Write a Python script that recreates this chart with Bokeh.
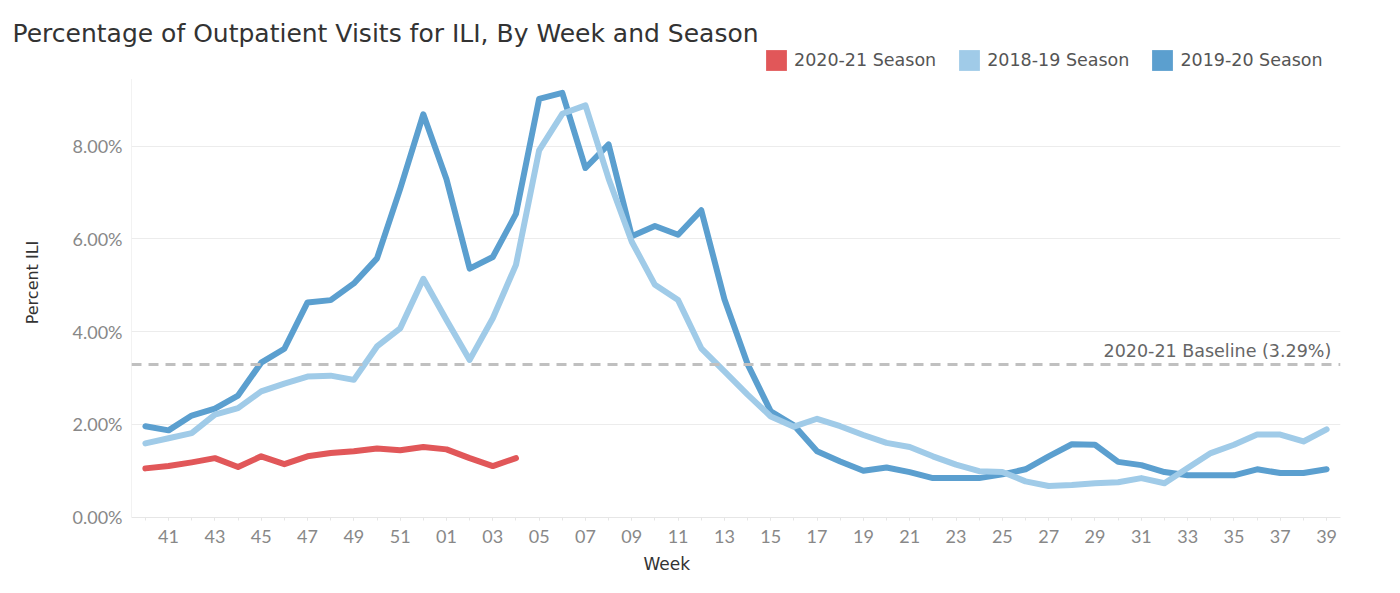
from bokeh.plotting import figure
from bokeh.models import (Range1d, FixedTicker, Legend, LegendItem, Label, Span,
                          ColumnDataSource, Title)
from bokeh.embed import file_html
from bokeh.resources import INLINE

# ---- data ----
weeks = [str(w).zfill(2) for w in list(range(40, 53)) + list(range(1, 40))]

season_2019_20 = [1.96, 1.87, 2.19, 2.34, 2.62, 3.33, 3.63, 4.63, 4.68, 5.04,
                  5.58, 7.08, 8.69, 7.29, 5.36, 5.61, 6.54, 9.02, 9.15, 7.53,
                  8.04, 6.06, 6.28, 6.09, 6.62, 4.70, 3.30, 2.28, 1.98, 1.42,
                  1.20, 1.00, 1.07, 0.97, 0.84, 0.84, 0.84, 0.92, 1.03, 1.31,
                  1.57, 1.56, 1.19, 1.12, 0.97, 0.90, 0.90, 0.90, 1.03, 0.95,
                  0.95, 1.03]
season_2018_19 = [1.59, 1.70, 1.81, 2.21, 2.35, 2.71, 2.88, 3.03, 3.05, 2.96,
                  3.68, 4.07, 5.14, 4.25, 3.39, 4.29, 5.44, 7.91, 8.70, 8.88,
                  7.30, 5.94, 5.01, 4.68, 3.64, 3.14, 2.64, 2.17, 1.95, 2.12,
                  1.96, 1.77, 1.60, 1.51, 1.31, 1.13, 0.99, 0.97, 0.77, 0.67,
                  0.69, 0.73, 0.75, 0.84, 0.73, 1.06, 1.38, 1.56, 1.78, 1.78,
                  1.63, 1.89]
season_2020_21 = [1.05, 1.10, 1.18, 1.27, 1.08, 1.31, 1.14, 1.31, 1.38, 1.42,
                  1.48, 1.44, 1.51, 1.46, 1.27, 1.10, 1.27]
baseline = 3.29
y_ticks = [0, 2, 4, 6, 8]
y_tick_labels = ["0.00%", "2.00%", "4.00%", "6.00%", "8.00%"]
series_names = ["2020-21 Season", "2018-19 Season", "2019-20 Season"]

x = list(range(len(weeks)))

C_RED = "#e15759"
C_LIGHT = "#a0cbe8"
C_DARK = "#5b9fcf"
FONT = "DejaVu Sans"
TICK_FONT = "Lato"

Y_TOP = 10.13      # view top (room for legend)
AXIS_TOP = 9.45    # where the left axis rule ends

p = figure(width=1400, height=593, output_backend="svg", toolbar_location=None,
           x_range=Range1d(-0.6, 51.6), y_range=Range1d(-0.01, Y_TOP),
           min_border_left=131, min_border_right=60, min_border_top=47,
           min_border_bottom=76)
p.background_fill_color = "white"
p.border_fill_color = "white"
p.outline_line_color = None

p.title.text = "Percentage of Outpatient Visits for ILI, By Week and Season"
p.title.text_font = FONT
p.title.text_font_size = "25px"
p.title.text_font_style = "normal"
p.title.text_color = "#333333"
p.title.offset = -119
p.title.standoff = 0

# grid
p.xgrid.grid_line_color = None
p.ygrid.ticker = FixedTicker(ticks=y_ticks[1:])
p.ygrid.grid_line_color = "#ececec"
p.ygrid.grid_line_width = 1

# axes
p.yaxis.ticker = FixedTicker(ticks=y_ticks)
p.yaxis.major_label_overrides = dict(zip(y_ticks, y_tick_labels))
p.yaxis.axis_label = "Percent ILI"
p.yaxis.axis_label_text_font = FONT
p.yaxis.axis_label_text_font_size = "16px"
p.yaxis.axis_label_text_font_style = "normal"
p.yaxis.axis_label_text_color = "#333333"
p.yaxis.axis_label_standoff = 28
p.yaxis.major_label_text_font = TICK_FONT
p.yaxis.major_label_text_font_size = "18px"
p.yaxis.major_label_text_color = "#888888"
p.yaxis.major_tick_line_color = None
p.yaxis.minor_tick_line_color = None
p.yaxis.axis_line_color = None
p.yaxis.major_label_standoff = 3

odd_idx = [i for i in x if i % 2 == 1]
p.xaxis.ticker = FixedTicker(ticks=odd_idx, minor_ticks=x)
p.xaxis.major_label_overrides = {i: weeks[i] for i in odd_idx}
p.xaxis.major_label_text_font = TICK_FONT
p.xaxis.major_label_text_font_size = "18px"
p.xaxis.major_label_text_color = "#888888"
p.xaxis.major_label_standoff = 9
p.xaxis.axis_line_color = "#e6e6e6"
p.xaxis.major_tick_line_color = "#e6e6e6"
p.xaxis.major_tick_out = 3
p.xaxis.major_tick_in = 0
p.xaxis.minor_tick_line_color = "#e6e6e6"
p.xaxis.minor_tick_out = 3
p.xaxis.minor_tick_in = 0

p.add_layout(Title(text="Week", align="left", offset=512, text_font=FONT,
                   text_font_size="17px", text_font_style="normal",
                   text_color="#333333", standoff=13), "below")

# left axis rule
p.segment(x0=[p.x_range.start], x1=[p.x_range.start], y0=[0], y1=[AXIS_TOP],
          line_color="#e6e6e6", line_width=1)

# baseline
p.add_layout(Span(location=baseline, dimension="width", line_color="#c0c0c0",
                  line_width=3, line_dash="10 7"))
p.add_layout(Label(x=x[-1] + 0.2, y=baseline, text="2020-21 Baseline (%.2f%%)" % baseline,
                   text_align="right", text_baseline="bottom", y_offset=4,
                   text_font=FONT, text_font_size="17.5px", text_color="#666666"))

# lines
p.line(x, season_2019_20, line_color=C_DARK, line_width=6, line_join="round", line_cap="round")
p.line(x, season_2018_19, line_color=C_LIGHT, line_width=6, line_join="round", line_cap="round")
p.line(x[:len(season_2020_21)], season_2020_21, line_color=C_RED, line_width=6,
       line_join="round", line_cap="round")

# legend proxies (zero-size quads) drawn as squares in the legend
items = []
for name, col, vals in zip(series_names, [C_RED, C_LIGHT, C_DARK],
                           [season_2020_21, season_2018_19, season_2019_20]):
    src = ColumnDataSource(dict(l=[x[0]], r=[x[0]], b=[vals[0]], t=[vals[0]]))
    r = p.quad(left="l", right="r", bottom="b", top="t", source=src,
               fill_color=col, line_color=None)
    items.append(LegendItem(label=name, renderers=[r]))

legend = Legend(items=items, orientation="horizontal", location=(632, 444),
                glyph_width=26, glyph_height=26, label_standoff=5, spacing=20,
                label_text_font=FONT, label_text_font_size="17.5px",
                label_text_color="#555555", border_line_color=None,
                background_fill_alpha=0, padding=0, margin=0)
p.add_layout(legend, "center")

open("out.html", "w").write(file_html(p, INLINE))
